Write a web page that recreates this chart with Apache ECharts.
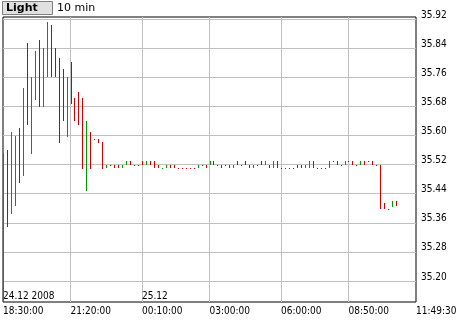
<!DOCTYPE html>
<html><head><meta charset="utf-8">
<script src="https://cdn.jsdelivr.net/npm/echarts@6/dist/echarts.min.js"></script>
<style>html,body{margin:0;padding:0;background:#fff}#c{width:460px;height:320px}</style>
</head><body><div id="c"></div>
<script>
// bar index 0..99, 10-minute bars
const highs = [35.552,35.561,35.611,35.600,35.622,35.732,35.854,35.762,35.832,35.862,
  35.842,35.913,35.903,35.842,35.812,35.782,35.762,35.801,35.702,35.721,
  35.702,35.641,35.611,35.591,35.591,35.581,35.52,35.52,35.52,35.52,
  35.52,35.53,35.53,35.52,35.52,35.53,35.53,35.53,35.53,35.52,
  35.51,35.52,35.52,35.52,35.51,35.51,35.51,35.51,35.51,35.52,
  35.52,35.52,35.53,35.53,35.52,35.52,35.52,35.52,35.52,35.53,
  35.52,35.53,35.52,35.52,35.52,35.53,35.53,35.52,35.53,35.53,
  35.51,35.51,35.51,35.51,35.52,35.52,35.52,35.53,35.53,35.51,
  35.51,35.51,35.53,35.53,35.53,35.52,35.53,35.53,35.53,35.52,
  35.53,35.53,35.53,35.53,35.52,35.52,35.414,35.398,35.419,35.419];
const lows = [35.142,35.347,35.385,35.407,35.468,35.488,35.628,35.548,35.699,35.678,
  35.678,35.760,35.760,35.760,35.579,35.639,35.597,35.687,35.639,35.628,
  35.507,35.446,35.507,35.591,35.579,35.507,35.51,35.52,35.51,35.51,
  35.51,35.52,35.52,35.52,35.52,35.52,35.52,35.52,35.51,35.51,
  35.51,35.51,35.51,35.51,35.51,35.51,35.51,35.51,35.51,35.51,
  35.52,35.51,35.52,35.52,35.52,35.51,35.52,35.51,35.51,35.52,
  35.52,35.52,35.51,35.51,35.52,35.52,35.52,35.51,35.51,35.51,
  35.51,35.51,35.51,35.51,35.51,35.51,35.51,35.51,35.51,35.51,
  35.51,35.51,35.51,35.53,35.52,35.52,35.52,35.53,35.52,35.52,
  35.52,35.52,35.53,35.52,35.52,35.398,35.398,35.398,35.403,35.405];
const dirs = [1,-1,1,1,-1,1,-1,1,1,-1,
  1,1,-1,-1,-1,-1,1,-1,-1,-1,
  -1,1,-1,-1,-1,-1,1,-1,-1,-1,
  1,1,-1,-1,-1,-1,1,-1,-1,-1,
  1,1,-1,-1,-1,-1,-1,-1,-1,1,
  -1,-1,1,-1,-1,-1,-1,-1,1,-1,
  -1,-1,-1,1,-1,-1,1,-1,1,-1,
  -1,-1,-1,-1,-1,-1,1,1,-1,-1,
  -1,-1,1,-1,-1,-1,1,-1,-1,-1,
  1,-1,-1,-1,-1,-1,-1,-1,1,-1];
const yTicks = [35.20,35.28,35.36,35.44,35.52,35.60,35.68,35.76,35.84,35.92];
const tickLabels = ['18:30:00','21:20:00','00:10:00','03:00:00','06:00:00','08:50:00','11:49:30'];
const tickIdx = [0,17,35,52,70,87,104];
const dateLabels = ['24.12 2008','25.12'];
const dateIdx = [0,35];
const lastPrice = 35.41;
const slotCount = 105;
const categories = Array.from({length: slotCount}, (_, k) => String(k));

const FONT = '"DejaVu Sans Condensed", "DejaVu Sans", sans-serif';
const UP = '#009900', DOWN = '#cc0000';

const data = highs.map((h, i) => [i, lows[i], h, dirs[i]]);

const chart = echarts.init(document.getElementById('c'), null, {renderer: 'canvas'});
chart.setOption({
  animation: false,
  backgroundColor: '#fff',
  title: [
    {text: 'Light', left: 2, top: 1, padding: [1, 15, 1, 4], backgroundColor: '#e0e0e0',
     borderColor: '#808080', borderWidth: 1,
     textStyle: {fontSize: 11, fontWeight: 'bold', fontFamily: 'DejaVu Sans', color: '#000', lineHeight: 12}},
    {text: '10 min', left: 57, top: 1, padding: [1, 0, 1, 0],
     textStyle: {fontSize: 11, fontWeight: 'normal', fontFamily: 'DejaVu Sans', color: '#000', lineHeight: 12}}
  ],
  grid: {left: 3, top: 17, width: 413, height: 285, show: true, borderColor: '#000', borderWidth: 1, backgroundColor: 'transparent'},
  xAxis: [
    {type: 'category', data: categories, boundaryGap: false,
     axisLine: {show: false}, axisTick: {show: false},
     axisLabel: {interval: (i) => tickIdx.includes(i), align: 'left', margin: 4,
       fontSize: 10, fontFamily: FONT, color: '#000',
       formatter: (v, i) => tickLabels[tickIdx.indexOf(i)] || ''},
     splitLine: {show: true, interval: (i) => tickIdx.includes(i) && i !== 0 && i !== slotCount - 1,
       lineStyle: {color: '#c0c0c0', width: 1}}},
    {type: 'category', data: categories, boundaryGap: false, position: 'bottom',
     axisLine: {show: false}, axisTick: {show: false}, splitLine: {show: false},
     axisLabel: {inside: true, interval: (i) => dateIdx.includes(i), align: 'left', margin: 1,
       fontSize: 10, fontFamily: FONT, color: '#000',
       formatter: (v, i) => dateLabels[dateIdx.indexOf(i)] || ''}}
  ],
  yAxis: {type: 'value', position: 'right', min: 35.142, max: 35.926, scale: true,
    axisLine: {show: false},
    axisTick: {show: false, customValues: yTicks},
    axisLabel: {customValues: yTicks, margin: 5, fontSize: 10, fontFamily: FONT, color: '#000',
      verticalAlign: 'bottom', lineHeight: 8, formatter: (v) => v.toFixed(2)},
    splitLine: {show: true, lineStyle: {color: '#c0c0c0', width: 1}}},
  series: [{
    type: 'custom',
    xAxisIndex: 0, yAxisIndex: 0,
    data: data,
    encode: {x: 0, y: [1, 2]},
    clip: true,
    renderItem: function (params, api) {
      const i = api.value(0);
      const top = api.coord([i, api.value(2)]);
      const bot = api.coord([i, api.value(1)]);
      const x = Math.round(top[0]);
      const y1 = Math.round(top[1]);
      const y2 = Math.round(bot[1]);
      return {type: 'rect', shape: {x: x, y: y1, width: 1, height: Math.max(1, y2 - y1)},
        style: {fill: api.value(3) > 0 ? UP : DOWN}};
    },
    markLine: {
      silent: true, symbol: 'none', animation: false,
      lineStyle: {opacity: 0},
      label: {show: true, position: 'end', distance: 2, formatter: lastPrice.toFixed(2),
        backgroundColor: '#808080', color: '#fff', padding: [2, 2, 1, 2],
        borderColor: '#b0b0b0', borderWidth: 1,
        fontSize: 10, fontFamily: FONT},
      data: [{yAxis: lastPrice}]
    }
  }]
});
</script></body></html>
